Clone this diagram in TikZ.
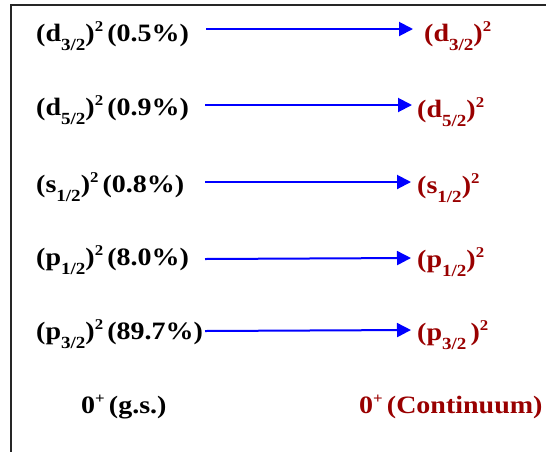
\documentclass[tikz,border=0pt]{standalone}
\usepackage{fontspec}
\setmainfont{Liberation Serif}[FakeStretch=1.12]
\usetikzlibrary{arrows.meta}
\definecolor{dred}{RGB}{153,0,0}
\definecolor{pblue}{RGB}{0,0,255}
\newcommand{\orb}[3][]{(#2\raisebox{-9pt}{\fontsize{17}{17}\selectfont #3}#1)\raisebox{10pt}{\fontsize{15}{15}\selectfont 2}}
\newcommand{\zp}{0\raisebox{10pt}{\fontsize{15}{15}\selectfont +}}
\tikzset{
  lab/.style={anchor=base west, inner sep=0pt, font=\fontsize{25}{25}\selectfont\bfseries},
  leftlab/.style={lab, text=black},
  rightlab/.style={lab, text=dred},
  trans/.style={draw=pblue, line width=2pt, -{Triangle[length=14pt,width=14pt]}},
  frame/.style={draw=black!85, line width=2pt}
}
\begin{document}
\begin{tikzpicture}[x=1pt,y=-1pt]
\useasboundingbox (0,0) rectangle (546,451);
\coordinate (fb) at (11,452);
\coordinate (ftl) at (11,5);
\coordinate (ftr) at (547,5);
\draw[frame] (fb) -- (ftl) -- (ftr);
% left labels
\node[leftlab] (l1) at (36,41) {\orb{d}{3/2}\,(0.5\%)};
\node[leftlab] (l2) at (36,115) {\orb{d}{5/2}\,(0.9\%)};
\node[leftlab] (l3) at (36,192) {\orb{s}{1/2}\,(0.8\%)};
\node[leftlab] (l4) at (36,265) {\orb{p}{1/2}\,(8.0\%)};
\node[leftlab] (l5) at (36,339) {\orb{p}{3/2}\,(89.7\%)};
\node[leftlab] (l6) at (81,413) {\zp\,(g.s.)};
% right labels
\node[rightlab] (r1) at (424,41) {\orb{d}{3/2}};
\node[rightlab] (r2) at (417,117) {\orb{d}{5/2}};
\node[rightlab] (r3) at (417,193) {\orb{s}{1/2}};
\node[rightlab] (r4) at (417,267) {\orb{p}{1/2}};
\node[rightlab] (r5) at (417,340) {\orb[\,]{p}{3/2}};
\node[rightlab] (r6) at (359,413) {\zp\,(Continuum)};
% arrows
\coordinate (a1) at (206,29);  \coordinate (b1) at (413,29);
\coordinate (a2) at (205,105); \coordinate (b2) at (412,105);
\coordinate (a3) at (205,182); \coordinate (b3) at (411,182);
\coordinate (a4) at (205,259); \coordinate (b4) at (411,258);
\coordinate (a5) at (205,331); \coordinate (b5) at (411,330);
\foreach \i in {1,...,5} \draw[trans] (a\i) -- (b\i);
\end{tikzpicture}
\end{document}
